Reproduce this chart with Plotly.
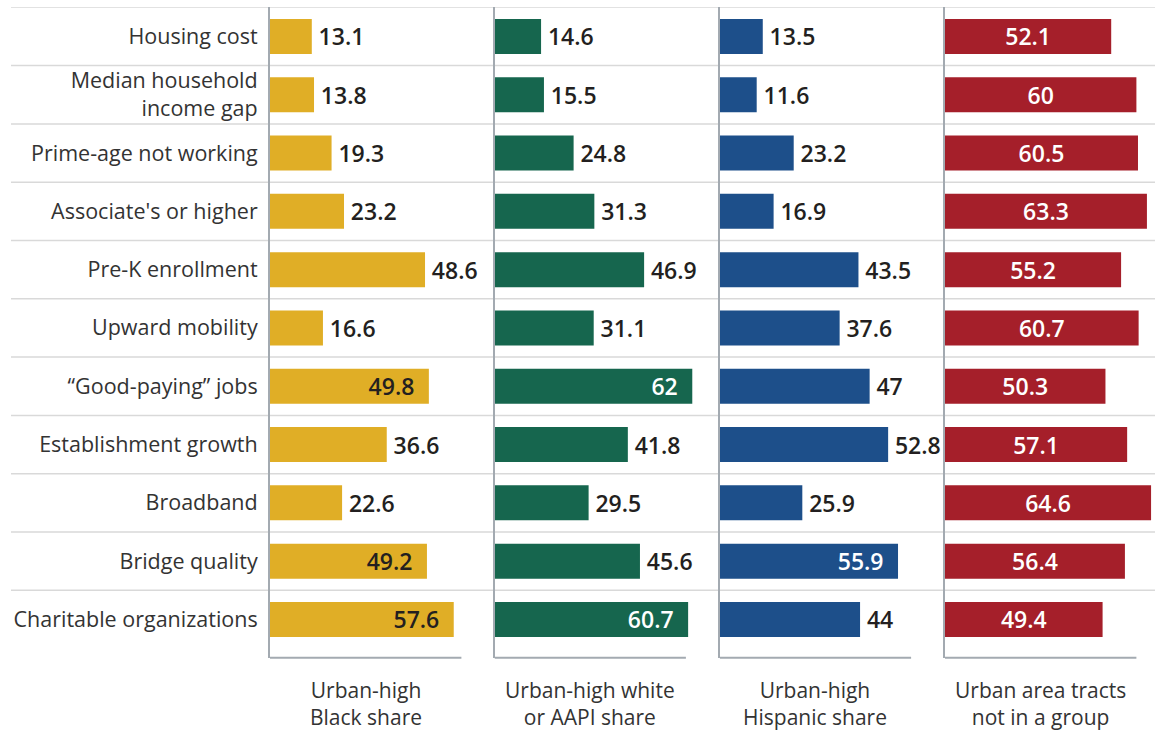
import plotly.graph_objects as go

categories = ["Housing cost", "Median household<br>income gap", "Prime-age not working",
              "Associate's or higher", "Pre-K enrollment", "Upward mobility",
              "\u201cGood-paying\u201d jobs", "Establishment growth", "Broadband",
              "Bridge quality", "Charitable organizations"]
black_share = [13.1, 13.8, 19.3, 23.2, 48.6, 16.6, 49.8, 36.6, 22.6, 49.2, 57.6]
white_aapi_share = [14.6, 15.5, 24.8, 31.3, 46.9, 31.1, 62, 41.8, 29.5, 45.6, 60.7]
hispanic_share = [13.5, 11.6, 23.2, 16.9, 43.5, 37.6, 47, 52.8, 25.9, 55.9, 44]
not_in_group = [52.1, 60, 60.5, 63.3, 55.2, 60.7, 50.3, 57.1, 64.6, 56.4, 49.4]
panel_titles = ["Urban-high<br>Black share", "Urban-high white<br>or AAPI share",
                "Urban-high<br>Hispanic share", "Urban area tracts<br>not in a group"]

W, H = 1155, 730
FONT = "Open Sans"
DARK = "#231f20"
LABEL = "#333333"
AXIS = "#a3aab1"
GRID = "#d9d9d9"

series = [black_share, white_aapi_share, hispanic_share, not_in_group]
colors = ["#E0AE26", "#16664E", "#1D4F8A", "#A51F2A"]
inside_text_colors = [DARK, "white", "white", "white"]
inside_thresholds = [49, 50, 55, 0]
anchors = ["end", "end", "end", "middle"]
axis_px = [270, 494.5, 719.7, 945]
px_per_unit = 3.19
xmax = 65

top_px, bottom_px = 7.3, 657.7
row_h = 58.3
n = len(categories)
span = (bottom_px - top_px) / row_h
yrange = [-0.5 + span, -0.5]


def label(v, inside, anchor):
    s = f"{v:g}"
    if not inside:
        return "\u2009" + s
    if anchor == "end":
        return s + "\u2002"
    return s


fig = go.Figure()
for i, (vals, col) in enumerate(zip(series, colors)):
    xa = "x" if i == 0 else f"x{i+1}"
    ya = "y" if i == 0 else f"y{i+1}"
    inside = [v >= inside_thresholds[i] for v in vals]
    pos = ["inside" if f else "outside" for f in inside]
    fig.add_trace(go.Bar(
        x=vals, y=categories, orientation="h", marker=dict(color=col, line=dict(width=0)),
        width=0.6, text=[label(v, f, anchors[i]) for v, f in zip(vals, inside)],
        textposition=pos, insidetextanchor=anchors[i], cliponaxis=False,
        constraintext="none",
        insidetextfont=dict(family=FONT, size=23, color=inside_text_colors[i], weight=600),
        outsidetextfont=dict(family=FONT, size=23, color=DARK, weight=600),
        textangle=0, xaxis=xa, yaxis=ya, showlegend=False, hoverinfo="skip"))

layout = dict(width=W, height=H, margin=dict(l=0, r=0, t=0, b=0),
              paper_bgcolor="white", plot_bgcolor="rgba(0,0,0,0)",
              font=dict(family=FONT, color=LABEL, size=21), bargap=0.4,
              uniformtext=dict(mode="show", minsize=23))
ydom = [1 - bottom_px / H, 1 - top_px / H]
shapes = []
annotations = []
for i in range(4):
    sfx = "" if i == 0 else str(i + 1)
    x0 = axis_px[i] / W
    x1 = (axis_px[i] + xmax * px_per_unit) / W
    layout[f"xaxis{sfx}"] = dict(domain=[x0, x1], range=[0, xmax], showgrid=False,
                                 zeroline=False, showline=False, showticklabels=False,
                                 fixedrange=True, anchor="y" + sfx)
    layout[f"yaxis{sfx}"] = dict(domain=ydom, range=yrange, showgrid=False, zeroline=False,
                                 showline=True, linecolor=AXIS, linewidth=2,
                                 showticklabels=(i == 0), ticklabelstandoff=6,
                                 tickfont=dict(family=FONT, size=21.5, color=LABEL),
                                 anchor="x" + sfx, fixedrange=True)
    shapes.append(dict(type="line", xref="x" + sfx, yref=f"y{sfx} domain",
                       x0=0, x1=60, y0=0, y1=0, line=dict(color=AXIS, width=2), layer="above"))
    annotations.append(dict(text=panel_titles[i], xref="x" + sfx, yref="paper", x=30,
                            y=1 - 703 / H, yanchor="middle", xanchor="center", showarrow=False,
                            font=dict(family=FONT, size=21, color=LABEL)))

for k in range(n):
    yb = k - 0.5
    shapes.append(dict(type="line", xref="paper", yref="y", x0=11 / W, x1=1, y0=yb, y1=yb,
                       line=dict(color=GRID, width=1.5), layer="below"))

layout["shapes"] = shapes
layout["annotations"] = annotations
fig.update_layout(**layout)
fig.write_html("out.html", config={"displayModeBar": False},
               post_script="document.body.style.margin='0';document.body.style.overflow='hidden';")
